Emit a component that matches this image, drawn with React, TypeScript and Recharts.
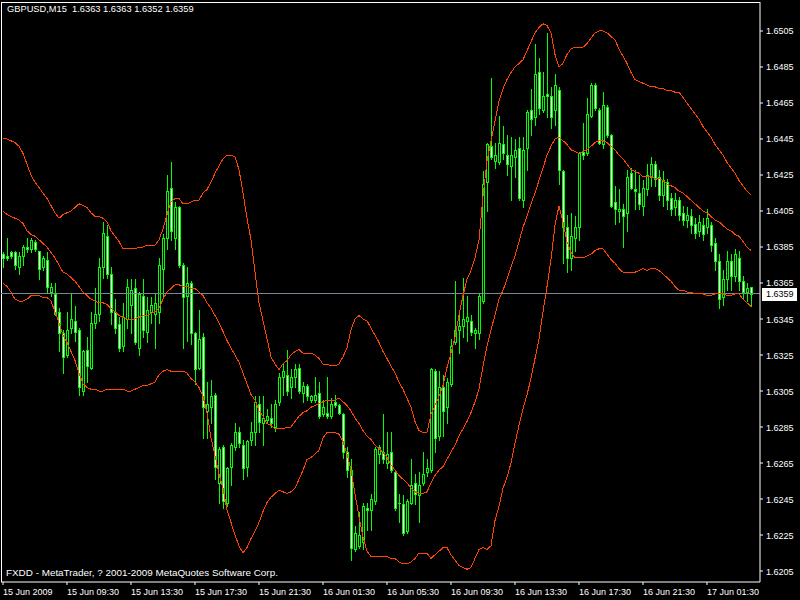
import { ComposedChart, Bar, Line, XAxis, YAxis, ReferenceLine } from 'recharts';

// GBPUSD M15, one entry per bar
const open = [
  1.6381, 1.6380, 1.6382, 1.6382, 1.6374, 1.6380, 1.6385, 1.6384, 1.6388, 1.6383,
  1.6374, 1.6378, 1.6360, 1.6359, 1.6349, 1.6337, 1.6325, 1.6340, 1.6344, 1.6339,
  1.6305, 1.6328, 1.6318, 1.6343, 1.6348, 1.6374, 1.6391, 1.6370, 1.6349, 1.6342,
  1.6330, 1.6345, 1.6353, 1.6362, 1.6329, 1.6358, 1.6338, 1.6349, 1.6348, 1.6349,
  1.6373, 1.6390, 1.6418, 1.6390, 1.6407, 1.6375, 1.6358, 1.6365, 1.6337, 1.6318,
  1.6335, 1.6294, 1.6296, 1.6303, 1.6254, 1.6274, 1.6243, 1.6263, 1.6274, 1.6282,
  1.6275, 1.6263, 1.6278, 1.6282, 1.6298, 1.6287, 1.6289, 1.6290, 1.6285, 1.6299,
  1.6313, 1.6314, 1.6307, 1.6313, 1.6318, 1.6304, 1.6308, 1.6300, 1.6300, 1.6304,
  1.6292, 1.6293, 1.6291, 1.6299, 1.6297, 1.6292, 1.6271, 1.6261, 1.6217, 1.6219,
  1.6221, 1.6240, 1.6239, 1.6244, 1.6270, 1.6271, 1.6265, 1.6271, 1.6260, 1.6242,
  1.6242, 1.6227, 1.6243, 1.6254, 1.6247, 1.6254, 1.6260, 1.6261, 1.6316, 1.6280,
  1.6307, 1.6296, 1.6309, 1.6332, 1.6339, 1.6341, 1.6344, 1.6344, 1.6337, 1.6337,
  1.6355, 1.6421, 1.6441, 1.6433, 1.6432, 1.6442, 1.6436, 1.6430, 1.6435, 1.6440,
  1.6411, 1.6440, 1.6461, 1.6457, 1.6482, 1.6461, 1.6470, 1.6469, 1.6461, 1.6472,
  1.6427, 1.6396, 1.6379, 1.6390, 1.6396, 1.6438, 1.6437, 1.6458, 1.6475, 1.6461,
  1.6442, 1.6463, 1.6447, 1.6410, 1.6405, 1.6406, 1.6404, 1.6426, 1.6417, 1.6415,
  1.6408, 1.6417, 1.6424, 1.6431, 1.6424, 1.6414, 1.6421, 1.6412, 1.6407, 1.6411,
  1.6404, 1.6400, 1.6402, 1.6398, 1.6394, 1.6397, 1.6396, 1.6397, 1.6387, 1.6377,
  1.6357, 1.6367, 1.6377, 1.6369, 1.6379, 1.6366, 1.6360, 1.6363,
];
const high = [
  1.6382, 1.6390, 1.6383, 1.6383, 1.6382, 1.6386, 1.6390, 1.6390, 1.6389, 1.6383,
  1.6380, 1.6382, 1.6365, 1.6365, 1.6351, 1.6339, 1.6349, 1.6359, 1.6352, 1.6340,
  1.6328, 1.6335, 1.6349, 1.6362, 1.6379, 1.6399, 1.6397, 1.6374, 1.6356, 1.6346,
  1.6354, 1.6367, 1.6367, 1.6367, 1.6360, 1.6367, 1.6357, 1.6357, 1.6359, 1.6379,
  1.6392, 1.6425, 1.6432, 1.6410, 1.6408, 1.6376, 1.6374, 1.6366, 1.6338, 1.6350,
  1.6337, 1.6310, 1.6311, 1.6304, 1.6274, 1.6275, 1.6263, 1.6276, 1.6287, 1.6285,
  1.6278, 1.6278, 1.6288, 1.6302, 1.6302, 1.6302, 1.6295, 1.6298, 1.6300, 1.6315,
  1.6320, 1.6328, 1.6317, 1.6320, 1.6320, 1.6310, 1.6309, 1.6303, 1.6313, 1.6310,
  1.6300, 1.6313, 1.6301, 1.6303, 1.6298, 1.6293, 1.6274, 1.6267, 1.6230, 1.6238,
  1.6243, 1.6243, 1.6248, 1.6274, 1.6275, 1.6292, 1.6282, 1.6282, 1.6261, 1.6248,
  1.6247, 1.6245, 1.6267, 1.6259, 1.6260, 1.6271, 1.6267, 1.6318, 1.6317, 1.6316,
  1.6314, 1.6312, 1.6334, 1.6366, 1.6348, 1.6368, 1.6358, 1.6347, 1.6340, 1.6359,
  1.6427, 1.6443, 1.6479, 1.6443, 1.6458, 1.6452, 1.6447, 1.6446, 1.6445, 1.6446,
  1.6446, 1.6461, 1.6473, 1.6498, 1.6490, 1.6482, 1.6504, 1.6474, 1.6481, 1.6474,
  1.6428, 1.6403, 1.6404, 1.6402, 1.6438, 1.6454, 1.6468, 1.6476, 1.6476, 1.6462,
  1.6471, 1.6464, 1.6448, 1.6419, 1.6417, 1.6409, 1.6428, 1.6429, 1.6428, 1.6425,
  1.6422, 1.6431, 1.6435, 1.6433, 1.6428, 1.6427, 1.6423, 1.6415, 1.6415, 1.6413,
  1.6408, 1.6407, 1.6406, 1.6401, 1.6403, 1.6401, 1.6406, 1.6399, 1.6390, 1.6381,
  1.6372, 1.6383, 1.6381, 1.6384, 1.6383, 1.6369, 1.6365, 1.6363,
];
const low = [
  1.6374, 1.6378, 1.6379, 1.6373, 1.6370, 1.6375, 1.6382, 1.6382, 1.6383, 1.6367,
  1.6372, 1.6360, 1.6358, 1.6347, 1.6327, 1.6315, 1.6324, 1.6337, 1.6333, 1.6303,
  1.6303, 1.6310, 1.6317, 1.6340, 1.6344, 1.6368, 1.6368, 1.6342, 1.6337, 1.6327,
  1.6327, 1.6340, 1.6337, 1.6331, 1.6325, 1.6335, 1.6332, 1.6343, 1.6329, 1.6343,
  1.6357, 1.6384, 1.6389, 1.6384, 1.6374, 1.6329, 1.6333, 1.6331, 1.6309, 1.6317,
  1.6279, 1.6279, 1.6287, 1.6256, 1.6243, 1.6240, 1.6241, 1.6253, 1.6272, 1.6274,
  1.6256, 1.6258, 1.6275, 1.6275, 1.6282, 1.6275, 1.6287, 1.6285, 1.6283, 1.6297,
  1.6303, 1.6303, 1.6301, 1.6307, 1.6304, 1.6299, 1.6300, 1.6299, 1.6299, 1.6290,
  1.6291, 1.6290, 1.6290, 1.6296, 1.6292, 1.6268, 1.6257, 1.6211, 1.6216, 1.6218,
  1.6217, 1.6228, 1.6228, 1.6242, 1.6265, 1.6265, 1.6262, 1.6260, 1.6239, 1.6232,
  1.6225, 1.6226, 1.6242, 1.6242, 1.6232, 1.6253, 1.6258, 1.6260, 1.6271, 1.6278,
  1.6280, 1.6287, 1.6308, 1.6331, 1.6326, 1.6335, 1.6333, 1.6336, 1.6329, 1.6334,
  1.6354, 1.6405, 1.6434, 1.6429, 1.6431, 1.6434, 1.6425, 1.6411, 1.6424, 1.6411,
  1.6407, 1.6428, 1.6447, 1.6453, 1.6459, 1.6460, 1.6457, 1.6451, 1.6453, 1.6420,
  1.6376, 1.6371, 1.6372, 1.6383, 1.6389, 1.6434, 1.6436, 1.6457, 1.6461, 1.6442,
  1.6440, 1.6446, 1.6407, 1.6398, 1.6399, 1.6385, 1.6394, 1.6417, 1.6406, 1.6406,
  1.6403, 1.6414, 1.6419, 1.6419, 1.6411, 1.6408, 1.6406, 1.6403, 1.6403, 1.6400,
  1.6397, 1.6396, 1.6393, 1.6390, 1.6391, 1.6389, 1.6393, 1.6383, 1.6372, 1.6351,
  1.6353, 1.6361, 1.6361, 1.6366, 1.6361, 1.6356, 1.6355, 1.6352,
];
const close = [
  1.6379, 1.6379, 1.6380, 1.6375, 1.6380, 1.6385, 1.6384, 1.6389, 1.6384, 1.6373,
  1.6379, 1.6363, 1.6363, 1.6348, 1.6337, 1.6324, 1.6339, 1.6345, 1.6338, 1.6307,
  1.6327, 1.6319, 1.6343, 1.6348, 1.6374, 1.6393, 1.6370, 1.6349, 1.6340, 1.6329,
  1.6346, 1.6363, 1.6361, 1.6332, 1.6359, 1.6339, 1.6350, 1.6353, 1.6354, 1.6375,
  1.6390, 1.6416, 1.6394, 1.6407, 1.6375, 1.6357, 1.6365, 1.6337, 1.6317, 1.6334,
  1.6296, 1.6298, 1.6302, 1.6263, 1.6273, 1.6244, 1.6262, 1.6275, 1.6282, 1.6276,
  1.6262, 1.6277, 1.6282, 1.6299, 1.6288, 1.6290, 1.6291, 1.6287, 1.6298, 1.6313,
  1.6316, 1.6305, 1.6313, 1.6317, 1.6305, 1.6308, 1.6302, 1.6302, 1.6303, 1.6291,
  1.6296, 1.6291, 1.6298, 1.6297, 1.6293, 1.6271, 1.6261, 1.6218, 1.6226, 1.6225,
  1.6241, 1.6239, 1.6245, 1.6273, 1.6274, 1.6267, 1.6270, 1.6261, 1.6240, 1.6243,
  1.6226, 1.6244, 1.6253, 1.6248, 1.6253, 1.6259, 1.6262, 1.6317, 1.6279, 1.6307,
  1.6294, 1.6310, 1.6330, 1.6339, 1.6341, 1.6345, 1.6346, 1.6338, 1.6339, 1.6358,
  1.6420, 1.6442, 1.6435, 1.6436, 1.6443, 1.6437, 1.6431, 1.6436, 1.6439, 1.6412,
  1.6439, 1.6460, 1.6456, 1.6481, 1.6462, 1.6469, 1.6469, 1.6457, 1.6475, 1.6428,
  1.6396, 1.6379, 1.6391, 1.6396, 1.6437, 1.6436, 1.6459, 1.6475, 1.6462, 1.6443,
  1.6464, 1.6447, 1.6408, 1.6406, 1.6406, 1.6402, 1.6424, 1.6418, 1.6416, 1.6409,
  1.6418, 1.6425, 1.6431, 1.6423, 1.6414, 1.6422, 1.6411, 1.6406, 1.6411, 1.6403,
  1.6400, 1.6403, 1.6397, 1.6393, 1.6399, 1.6392, 1.6401, 1.6386, 1.6377, 1.6356,
  1.6367, 1.6377, 1.6369, 1.6381, 1.6366, 1.6360, 1.6362, 1.6359,
];

// Bollinger bands as drawn
const bbUpper = [
  1.6445, 1.6445, 1.6444, 1.6443, 1.6441, 1.6437, 1.6431, 1.6425, 1.6421, 1.6418,
  1.6415, 1.6412, 1.6408, 1.6404, 1.6401, 1.6403, 1.6404, 1.6405, 1.6407, 1.6409,
  1.6408, 1.6407, 1.6404, 1.6402, 1.6402, 1.6401, 1.6399, 1.6394, 1.6391, 1.6388,
  1.6384, 1.6384, 1.6384, 1.6384, 1.6385, 1.6385, 1.6386, 1.6386, 1.6386, 1.6389,
  1.6395, 1.6403, 1.6410, 1.6412, 1.6412, 1.6409, 1.6409, 1.6410, 1.6411, 1.6411,
  1.6415, 1.6417, 1.6421, 1.6426, 1.6430, 1.6434, 1.6436, 1.6436, 1.6435, 1.6428,
  1.6415, 1.6401, 1.6389, 1.6371, 1.6354, 1.6344, 1.6334, 1.6324, 1.6320, 1.6317,
  1.6320, 1.6322, 1.6325, 1.6327, 1.6328, 1.6326, 1.6326, 1.6326, 1.6325, 1.6323,
  1.6320, 1.6320, 1.6319, 1.6319, 1.6320, 1.6324, 1.6329, 1.6339, 1.6345, 1.6347,
  1.6345, 1.6344, 1.6340, 1.6336, 1.6332, 1.6327, 1.6323, 1.6319, 1.6315, 1.6310,
  1.6306, 1.6301, 1.6296, 1.6288, 1.6283, 1.6282, 1.6282, 1.6292, 1.6297, 1.6302,
  1.6308, 1.6318, 1.6326, 1.6335, 1.6347, 1.6358, 1.6367, 1.6372, 1.6379, 1.6389,
  1.6413, 1.6433, 1.6444, 1.6455, 1.6466, 1.6473, 1.6478, 1.6482, 1.6485, 1.6487,
  1.6489, 1.6494, 1.6499, 1.6504, 1.6507, 1.6509, 1.6508, 1.6504, 1.6492, 1.6485,
  1.6487, 1.6492, 1.6495, 1.6496, 1.6496, 1.6496, 1.6498, 1.6501, 1.6504, 1.6505,
  1.6505, 1.6504, 1.6502, 1.6500, 1.6495, 1.6491, 1.6487, 1.6482, 1.6478, 1.6477,
  1.6476, 1.6475, 1.6474, 1.6474, 1.6473, 1.6473, 1.6472, 1.6472, 1.6471, 1.6471,
  1.6468, 1.6465, 1.6462, 1.6459, 1.6456, 1.6452, 1.6449, 1.6446, 1.6442, 1.6439,
  1.6436, 1.6432, 1.6429, 1.6426, 1.6422, 1.6419, 1.6416, 1.6414,
];
const bbMid = [
  1.6405, 1.6403, 1.6402, 1.6401, 1.6400, 1.6398, 1.6394, 1.6392, 1.6391, 1.6389,
  1.6387, 1.6385, 1.6382, 1.6379, 1.6375, 1.6371, 1.6370, 1.6368, 1.6366, 1.6363,
  1.6360, 1.6358, 1.6356, 1.6355, 1.6354, 1.6354, 1.6353, 1.6351, 1.6349, 1.6347,
  1.6346, 1.6345, 1.6345, 1.6345, 1.6346, 1.6347, 1.6347, 1.6348, 1.6349, 1.6351,
  1.6356, 1.6360, 1.6362, 1.6364, 1.6364, 1.6363, 1.6363, 1.6362, 1.6362, 1.6360,
  1.6358, 1.6354, 1.6351, 1.6347, 1.6343, 1.6338, 1.6333, 1.6329, 1.6325, 1.6321,
  1.6315, 1.6309, 1.6303, 1.6300, 1.6294, 1.6291, 1.6287, 1.6286, 1.6284, 1.6284,
  1.6284, 1.6285, 1.6285, 1.6288, 1.6291, 1.6293, 1.6294, 1.6296, 1.6297, 1.6298,
  1.6299, 1.6300, 1.6300, 1.6300, 1.6301, 1.6299, 1.6297, 1.6294, 1.6290, 1.6287,
  1.6283, 1.6280, 1.6278, 1.6275, 1.6273, 1.6271, 1.6268, 1.6264, 1.6261, 1.6258,
  1.6256, 1.6254, 1.6251, 1.6249, 1.6248, 1.6248, 1.6249, 1.6254, 1.6258, 1.6261,
  1.6263, 1.6267, 1.6271, 1.6275, 1.6280, 1.6284, 1.6288, 1.6293, 1.6299, 1.6306,
  1.6319, 1.6330, 1.6339, 1.6347, 1.6356, 1.6361, 1.6367, 1.6374, 1.6380, 1.6388,
  1.6396, 1.6402, 1.6409, 1.6415, 1.6422, 1.6429, 1.6436, 1.6441, 1.6445, 1.6446,
  1.6444, 1.6442, 1.6439, 1.6438, 1.6437, 1.6438, 1.6439, 1.6441, 1.6443, 1.6444,
  1.6444, 1.6443, 1.6441, 1.6439, 1.6436, 1.6434, 1.6431, 1.6428, 1.6427, 1.6426,
  1.6424, 1.6424, 1.6424, 1.6423, 1.6423, 1.6422, 1.6420, 1.6419, 1.6418, 1.6416,
  1.6415, 1.6413, 1.6411, 1.6409, 1.6407, 1.6405, 1.6404, 1.6402, 1.6400, 1.6399,
  1.6397, 1.6395, 1.6394, 1.6392, 1.6391, 1.6388, 1.6385, 1.6383,
];
const bbLower = [
  1.6365, 1.6363, 1.6360, 1.6356, 1.6355, 1.6355, 1.6356, 1.6358, 1.6358, 1.6358,
  1.6357, 1.6357, 1.6355, 1.6349, 1.6343, 1.6336, 1.6332, 1.6327, 1.6322, 1.6315,
  1.6309, 1.6307, 1.6306, 1.6306, 1.6305, 1.6305, 1.6306, 1.6306, 1.6306, 1.6306,
  1.6306, 1.6305, 1.6305, 1.6306, 1.6307, 1.6308, 1.6308, 1.6309, 1.6310, 1.6314,
  1.6316, 1.6317, 1.6316, 1.6316, 1.6316, 1.6316, 1.6315, 1.6312, 1.6310, 1.6307,
  1.6302, 1.6293, 1.6279, 1.6269, 1.6259, 1.6251, 1.6239, 1.6232, 1.6225, 1.6219,
  1.6215, 1.6218, 1.6223, 1.6227, 1.6232, 1.6238, 1.6243, 1.6246, 1.6248, 1.6250,
  1.6249, 1.6248, 1.6249, 1.6251, 1.6256, 1.6261, 1.6267, 1.6268, 1.6270, 1.6272,
  1.6279, 1.6282, 1.6282, 1.6282, 1.6281, 1.6277, 1.6270, 1.6261, 1.6248, 1.6235,
  1.6224, 1.6216, 1.6213, 1.6213, 1.6213, 1.6213, 1.6213, 1.6212, 1.6212, 1.6210,
  1.6209, 1.6209, 1.6210, 1.6212, 1.6215, 1.6215, 1.6215, 1.6212, 1.6214, 1.6216,
  1.6218, 1.6218, 1.6214, 1.6211, 1.6208, 1.6207, 1.6206, 1.6207, 1.6212, 1.6217,
  1.6218, 1.6217, 1.6219, 1.6233, 1.6241, 1.6251, 1.6257, 1.6265, 1.6276, 1.6286,
  1.6295, 1.6303, 1.6312, 1.6323, 1.6334, 1.6349, 1.6363, 1.6378, 1.6397, 1.6408,
  1.6399, 1.6388, 1.6382, 1.6379, 1.6379, 1.6379, 1.6380, 1.6381, 1.6383, 1.6384,
  1.6384, 1.6381, 1.6378, 1.6376, 1.6373, 1.6371, 1.6371, 1.6371, 1.6371, 1.6372,
  1.6373, 1.6372, 1.6373, 1.6373, 1.6372, 1.6370, 1.6368, 1.6366, 1.6363, 1.6361,
  1.6361, 1.6360, 1.6360, 1.6359, 1.6359, 1.6359, 1.6358, 1.6358, 1.6359, 1.6359,
  1.6359, 1.6358, 1.6358, 1.6359, 1.6359, 1.6356, 1.6354, 1.6352,
];

// time axis: a label every 16 bars (4 hours)
const tickIdx = [0, 16, 32, 48, 64, 80, 96, 112, 128, 144, 160, 176];
const tickLabels = [
  '15 Jun 2009', '15 Jun 09:30', '15 Jun 13:30', '15 Jun 17:30', '15 Jun 21:30', '16 Jun 01:30',
  '16 Jun 05:30', '16 Jun 09:30', '16 Jun 13:30', '16 Jun 17:30', '16 Jun 21:30', '17 Jun 01:30',
];
const yTicks = [
  1.6205, 1.6225, 1.6245, 1.6265, 1.6285, 1.6305, 1.6325, 1.6345,
  1.6365, 1.6385, 1.6405, 1.6425, 1.6445, 1.6465, 1.6485, 1.6505,
];
const Y_MIN = 1.619889;
const Y_MAX = 1.652111;
const lastPrice = 1.6359;

const GREEN = '#00ff00';
const BAND = '#ff4500';
const FONT = '"Liberation Sans", Arial, sans-serif';

const data = open.map((o, i) => ({
  i,
  open: o,
  high: high[i],
  low: low[i],
  close: close[i],
  upper: bbUpper[i],
  mid: bbMid[i],
  lower: bbLower[i],
}));

function Candle(props: any) {
  const { x, y, width, height, payload } = props;
  if (!payload) return null;
  const { open: o, close: c, high: h, low: l } = payload;
  const span = h - l;
  const toY = (v: number) => (span > 0 ? y + ((h - v) / span) * height : y);
  const cx = Math.round(x + width / 2);
  const top = Math.round(toY(Math.max(o, c)));
  const bot = Math.round(toY(Math.min(o, c)));
  const bull = c >= o;
  return (
    <g shapeRendering="crispEdges">
      <line x1={cx + 0.5} x2={cx + 0.5} y1={Math.round(y)} y2={Math.round(y + height) + 1} stroke={GREEN} />
      {bot - top >= 2 ? (
        <rect x={cx - 0.5} y={top + 0.5} width={2} height={bot - top} fill={bull ? '#000' : '#fff'} stroke={GREEN} />
      ) : (
        <line x1={cx - 1} x2={cx + 2} y1={top + 0.5} y2={top + 0.5} stroke={GREEN} />
      )}
    </g>
  );
}

function XTick(props: any) {
  const { x, y, payload } = props;
  const k = tickIdx.indexOf(payload.value);
  return (
    <text x={x} y={y + 8} fill="#fff" fontSize={9} fontFamily={FONT} textAnchor="start">
      {tickLabels[k]}
    </text>
  );
}

function YTick(props: any) {
  const { x, y, payload } = props;
  return (
    <text x={x} y={y + 3.5} fill="#fff" fontSize={9} fontFamily={FONT} textAnchor="start">
      {Number(payload.value).toFixed(4)}
    </text>
  );
}

function PriceTag(props: any) {
  const vb = props.viewBox || {};
  const right = (vb.x ?? 0) + (vb.width ?? 0);
  const y = vb.y ?? 0;
  return (
    <g>
      <rect x={right + 2} y={y - 6} width={35} height={13} fill="#fff" shapeRendering="crispEdges" />
      <text x={right + 6} y={y + 3.5} fill="#000" fontSize={9} fontFamily={FONT}>
        {lastPrice.toFixed(4)}
      </text>
    </g>
  );
}

export default function App() {
  return (
    <div style={{ position: 'absolute', left: 0, top: 0, width: 800, height: 600, background: '#000', overflow: 'hidden' }}>
      <style>{`.recharts-line-curve{shape-rendering:crispEdges}`}</style>
      <ComposedChart width={800} height={600} data={data} margin={{ top: 2, right: 0, left: 1, bottom: 0 }}>
        <XAxis
          type="number"
          dataKey="i"
          domain={[-0.5, 189.25]}
          allowDataOverflow
          ticks={tickIdx}
          interval={0}
          height={18}
          tickSize={3}
          tickMargin={2}
          axisLine={{ stroke: '#fff' }}
          tickLine={{ stroke: '#fff' }}
          tick={<XTick />}
        />
        <YAxis
          orientation="right"
          type="number"
          domain={[Y_MIN, Y_MAX]}
          allowDataOverflow
          ticks={yTicks}
          interval={0}
          width={40}
          tickSize={3}
          tickMargin={3}
          axisLine={{ stroke: '#fff' }}
          tickLine={{ stroke: '#fff' }}
          tick={<YTick />}
        />
        <ReferenceLine x={-0.5} stroke="#fff" shapeRendering="crispEdges" />
        <ReferenceLine y={Y_MAX} stroke="#fff" shapeRendering="crispEdges" />
        <ReferenceLine y={lastPrice} stroke="#778899" shapeRendering="crispEdges" label={<PriceTag />} />
        <Bar dataKey={(d: any) => [d.low, d.high]} barSize={4} shape={<Candle />} isAnimationActive={false} />
        <Line type="linear" dataKey="upper" stroke={BAND} strokeWidth={1} dot={false} activeDot={false} isAnimationActive={false} />
        <Line type="linear" dataKey="mid" stroke={BAND} strokeWidth={1} dot={false} activeDot={false} isAnimationActive={false} />
        <Line type="linear" dataKey="lower" stroke={BAND} strokeWidth={1} dot={false} activeDot={false} isAnimationActive={false} />
      </ComposedChart>
      <div style={{ position: 'absolute', left: 7, top: 4, color: '#fff', fontSize: 9.3, fontFamily: FONT, whiteSpace: 'pre' }}>
        GBPUSD,M15  1.6363 1.6363 1.6352 1.6359
      </div>
      <div style={{ position: 'absolute', left: 6, top: 567, color: '#fff', fontSize: 9.9, fontFamily: FONT, whiteSpace: 'pre' }}>
        FXDD - MetaTrader, ? 2001-2009 MetaQuotes Software Corp.
      </div>
    </div>
  );
}
